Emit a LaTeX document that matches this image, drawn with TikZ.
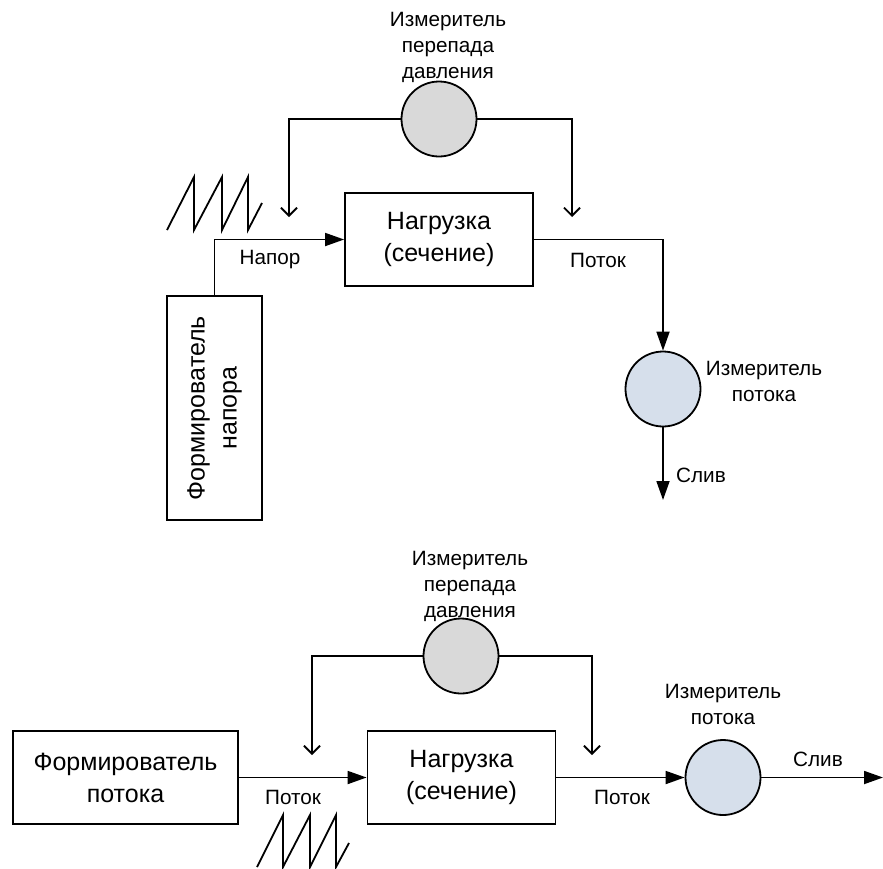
\documentclass[tikz,border=0pt]{standalone}
\usepackage{fontspec}
\setmainfont{Liberation Sans}
\usetikzlibrary{arrows.meta}
\definecolor{dpgray}{RGB}{217,217,217}
\definecolor{fmblue}{RGB}{214,223,235}
\tikzset{
	blk/.style={draw,line width=1.8pt,minimum width=188pt,minimum height=93pt,inner sep=0pt,align=center,font=\fontsize{25}{32}\selectfont},
	meter/.style={circle,draw,line width=1.8pt,minimum size=75pt,inner sep=0pt},
	lbl/.style={align=center,inner sep=0pt,font=\fontsize{20.7}{26}\selectfont},
	flow/.style={line width=1.8pt,-{Triangle[length=19pt,width=13pt]}},
	fb/.style={line width=1.8pt,-{Straight Barb[length=8pt,width=16pt]}},
	saw/.style={line width=1.8pt}
}
\begin{document}
\begin{tikzpicture}[x=1pt,y=-1pt]
	\useasboundingbox (0,0) rectangle (883,868);
	% upper scheme
	\node[meter,fill=dpgray] (dp1) at (439,119) {};
	\node[lbl] (dp1txt) at (448,47) {Измеритель\\перепада\\давления};
	\node[blk] (load1) at (439,239.5) {Нагрузка\\(сечение)};
	\node[blk,rotate=90,minimum width=224pt,minimum height=95pt] (gen1) at (214.5,408) {Формирователь\\напора};
	\node[meter,fill=fmblue] (fm1) at (663,389) {};
	\node[lbl] (fm1txt) at (764,381) {Измеритель\\потока};
	\coordinate (dp1l) at (289,217);
	\coordinate (dp1r) at (572,217);
	\coordinate (out1) at (663,500);
	\draw[fb] (dp1.west) -| (dp1l);
	\draw[fb] (dp1.east) -| (dp1r);
	\draw[flow] (gen1.east) |- (load1.west);
	\draw[flow] (load1.east) -| (fm1.north);
	\draw[flow] (fm1.south) -- (out1);
	\node[lbl] (head1) at (270,260) {Напор};
	\node[lbl] (flow1) at (598,260) {Поток};
	\node[lbl,anchor=west] (drain1) at (676,475) {Слив};
	\draw[saw] (167,230) -- (194,177) -- (194,230) -- (222,177) -- (222,230) -- (248,177) -- (248,230) -- (262,203);
	% lower scheme
	\node[meter,fill=dpgray] (dp2) at (461,656) {};
	\node[lbl] (dp2txt) at (470,586) {Измеритель\\перепада\\давления};
	\node[blk,minimum width=225pt] (gen2) at (125.5,777.5) {Формирователь\\потока};
	\node[blk] (load2) at (461.5,777.5) {Нагрузка\\(сечение)};
	\node[meter,fill=fmblue] (fm2) at (723,777.5) {};
	\node[lbl] (fm2txt) at (723,704) {Измеритель\\потока};
	\coordinate (dp2l) at (312,755);
	\coordinate (dp2r) at (592,755);
	\coordinate (out2) at (883,777.5);
	\draw[fb] (dp2.west) -| (dp2l);
	\draw[fb] (dp2.east) -| (dp2r);
	\draw[flow] (gen2.east) -- (load2.west);
	\draw[flow] (load2.east) -- (fm2.west);
	\draw[flow] (fm2.east) -- (out2);
	\node[lbl] (flow2) at (293,797) {Поток};
	\node[lbl] (flow3) at (622,797) {Поток};
	\node[lbl] (drain2) at (818,759) {Слив};
	\draw[saw] (257,867) -- (283,815) -- (283,867) -- (310,815) -- (310,867) -- (336,815) -- (336,867) -- (349,843);
\end{tikzpicture}
\end{document}
